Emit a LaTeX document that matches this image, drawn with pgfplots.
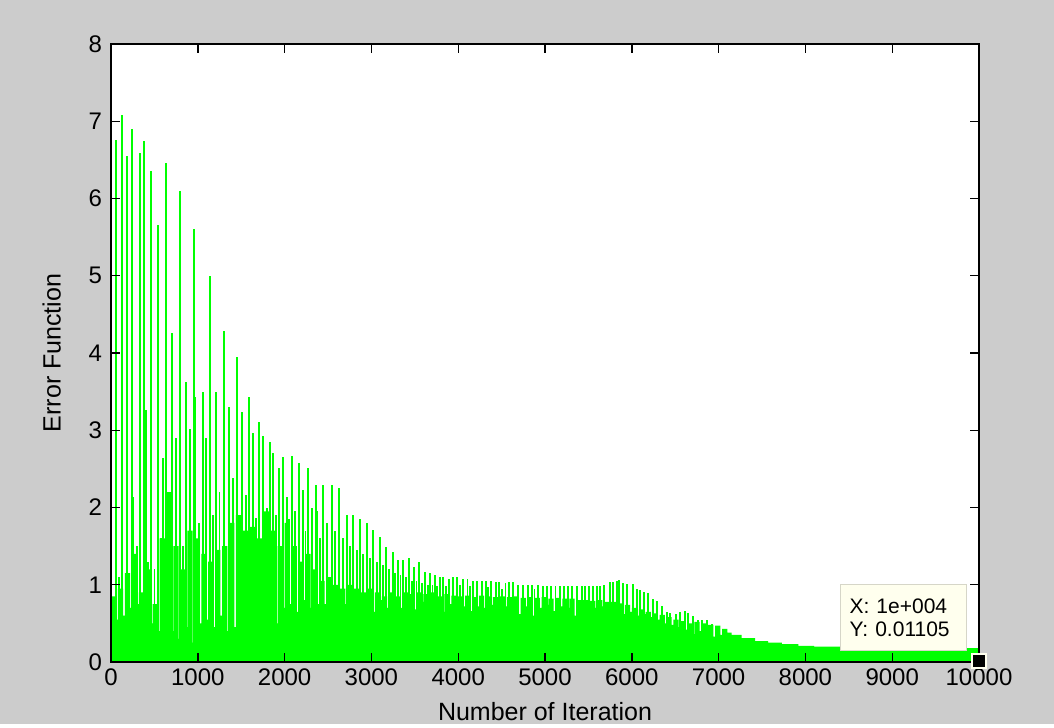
\documentclass[border=0pt]{standalone}
\usepackage{pgfplots}
\pgfplotsset{compat=1.18}
\usepackage{fontspec}
\setmainfont{Liberation Sans}
\definecolor{figgray}{RGB}{204,204,204}
\definecolor{tipfill}{RGB}{255,255,238}
\definecolor{tipedge}{RGB}{214,214,200}
\definecolor{mlgreen}{RGB}{0,255,0}

% solid band of the error curve (top edge with its narrow dips)
\pgfplotstableread{
x y
0 0.009
0 0.85
60 0.55
80 0.95
140 0.6
160 1.15
220 0.7
240 1.4
300 0.75
320 0.9
380 0.45
400 1.2
460 0.5
480 0.75
540 0.4
560 1.6
620 0.6
640 2.2
700 0.4
720 1.5
780 0.3
800 1.2
860 0.45
880 1.7
940 0.25
960 1.6
1020 0.5
1040 1.4
1100 0.55
1120 1.3
1180 0.45
1200 1.45
1260 0.6
1280 1.5
1340 0.4
1360 1.8
1420 0.45
1440 1.9
1500 0.6
1520 1.7
1580 0.5
1600 1.75
1660 0.65
1680 1.6
1740 0.7
1760 1.95
1820 0.6
1840 1.7
1900 0.5
1920 1.5
1980 0.7
2000 1.8
2060 0.75
2080 1.5
2140 0.65
2160 1.3
2220 0.8
2240 1.4
2300 0.7
2320 1.2
2380 0.75
2400 1.05
2460 0.75
2480 1.1
2540 0.8
2560 1.0
2620 0.7
2640 0.95
2700 0.75
2720 1.0
2780 0.65
2800 0.95
2860 0.8
2880 0.9
2940 0.75
2960 0.95
3020 0.65
3040 0.9
3100 0.8
3120 0.85
3180 0.7
3200 0.9
3260 0.78
3280 0.85
3340 0.7
3360 0.9
3420 0.75
3440 0.88
3500 0.68
3520 0.9
3580 0.78
3600 0.88
3660 0.72
3680 0.9
3740 0.74
3760 0.85
3820 0.65
3840 0.88
3900 0.75
3920 0.86
3980 0.7
4000 0.85
4060 0.72
4080 0.86
4140 0.66
4160 0.84
4220 0.72
4240 0.86
4300 0.7
4320 0.85
4380 0.74
4400 0.84
4460 0.64
4480 0.85
4540 0.72
4560 0.84
4620 0.68
4640 0.85
4700 0.62
4720 0.83
4780 0.72
4800 0.84
4860 0.6
4880 0.83
4940 0.7
4960 0.84
5020 0.74
5040 0.82
5100 0.66
5120 0.83
5180 0.72
5200 0.82
5260 0.7
5280 0.82
5340 0.6
5360 0.8
5420 0.72
5440 0.8
5500 0.68
5520 0.79
5580 0.7
5600 0.8
5660 0.72
5680 0.78
5740 0.66
5760 0.78
5820 0.7
5840 0.76
5900 0.62
5920 0.74
5980 0.65
6000 0.7
6060 0.6
6080 0.68
6140 0.62
6160 0.65
6220 0.58
6240 0.63
6300 0.55
6320 0.61
6380 0.5
6400 0.58
6460 0.48
6480 0.55
6540 0.45
6560 0.53
6620 0.42
6640 0.5
6700 0.36
6720 0.52
6780 0.4
6800 0.5
6860 0.3
6880 0.48
6940 0.33
6960 0.47
7020 0.35
7040 0.43
7100 0.38
7150 0.35
7265 0.31
7420 0.27
7570 0.25
7730 0.23
7920 0.21
8100 0.2
8400 0.19
9000 0.185
9500 0.18
10000 0.18
10000 0.009
}\bandtable

% peaks of the oscillation
\pgfplotstableread{
x y
0 2.53
54 6.76
90 1.1
123 7.08
188 6.55
238 6.9
257 2.14
300 1.5
330 6.59
376 6.74
403 3.26
430 1.3
465 6.36
500 1.2
541 5.66
580 1.6
603 2.64
630 6.46
699 4.26
749 2.9
791 6.1
830 1.5
864 3.63
910 3.02
952 5.6
968 3.43
1010 1.8
1056 3.49
1094 2.9
1140 5.0
1175 1.9
1206 3.49
1250 2.2
1302 4.28
1363 3.3
1409 2.38
1455 3.95
1505 3.23
1551 2.16
1594 3.43
1640 2.97
1667 1.86
1709 3.11
1755 2.92
1793 1.99
1832 2.85
1870 2.71
1900 1.9
1935 2.51
1978 2.65
2024 2.14
2050 1.85
2081 2.67
2120 1.95
2170 2.57
2208 2.23
2240 1.7
2273 2.51
2320 2.0
2362 2.29
2377 1.95
2410 1.6
2446 2.29
2490 1.8
2542 2.29
2585 1.7
2627 2.25
2670 1.6
2715 1.9
2755 1.5
2792 1.9
2830 1.45
2868 1.85
2905 1.4
2945 1.8
2985 1.35
3022 1.71
3060 1.3
3099 1.62
3135 1.25
3168 1.49
3205 1.2
3245 1.42
3275 1.15
3302 1.32
3335 1.12
3368 1.32
3400 1.1
3437 1.35
3465 1.05
3491 1.23
3520 1.05
3552 1.29
3585 1.02
3617 1.17
3650 1.0
3675 1.15
3705 1.0
3733 1.13
3760 0.98
3790 1.1
3828 1.1
3860 0.98
3893 1.08
3943 1.1
3990 1.1
4025 1.0
4059 1.08
4108 1.08
4140 0.98
4174 1.05
4220 1.05
4270 1.05
4316 1.05
4345 0.97
4377 1.05
4431 1.03
4470 1.03
4505 0.95
4546 1.02
4585 1.03
4635 1.03
4690 1.0
4750 1.0
4800 1.0
4846 1.0
4880 0.94
4915 1.0
4980 0.99
5020 0.99
5068 0.99
5120 0.99
5172 0.99
5220 0.99
5268 0.99
5307 0.99
5365 0.99
5422 0.99
5460 0.99
5507 0.99
5549 0.99
5595 0.99
5634 0.99
5684 1.0
5749 1.03
5787 1.04
5826 1.05
5856 1.06
5902 1.02
5948 1.01
6018 1.01
6056 0.95
6094 0.93
6140 0.91
6190 0.89
6248 0.82
6294 0.79
6344 0.72
6402 0.65
6440 0.63
6509 0.62
6555 0.65
6613 0.66
6651 0.64
6709 0.59
6766 0.55
6805 0.54
6862 0.54
6920 0.49
6978 0.47
}\peaktable

\begin{document}
\begin{tikzpicture}
\fill[figgray] (0,0) rectangle (527pt,362pt);
\begin{axis}[
  at={(55.5pt,31pt)}, anchor=south west,
  scale only axis, width=434pt, height=309pt,
  xmin=0, xmax=10000, ymin=0, ymax=8,
  xtick={0,1000,...,10000}, ytick={0,1,...,8},
  scaled x ticks=false,
  /pgf/number format/1000 sep={},
  /pgf/number format/assume math mode=true,
  tick align=inside, major tick length=4.5pt,
  axis line style={line width=0.7pt},
  tick style={black, line width=0.7pt},
  axis on top,
  axis background/.style={fill=white},
  tick label style={font=\fontsize{12}{14}\selectfont},
  yticklabel style={xshift=-1pt},
  xlabel={Number of Iteration}, ylabel={Error Function},
  label style={font=\fontsize{12.5}{14}\selectfont},
  xlabel style={at={(axis description cs:0.5,-0.0947)}, anchor=base},
  ylabel style={at={(axis description cs:-0.058,0.5)}, anchor=base},
]
\addplot[const plot, fill=mlgreen, draw=none] table {\bandtable};
\addplot[ycomb, draw=mlgreen, line width=0.9pt] table {\peaktable};
\addplot[only marks, mark=square*, mark size=3.6pt,
  mark options={fill=black, draw=tipfill, line width=1pt}]
  coordinates {(10000,0.01105)};
\node[draw=tipedge, fill=tipfill, anchor=south east, align=left,
  text width=54pt, inner xsep=4.5pt, inner ysep=7pt,
  font=\fontsize{10.5}{11.5}\selectfont]
  at (axis cs:9862,0.142) {X: 1e+004\\Y: 0.01105};
\end{axis}
\end{tikzpicture}
\end{document}
